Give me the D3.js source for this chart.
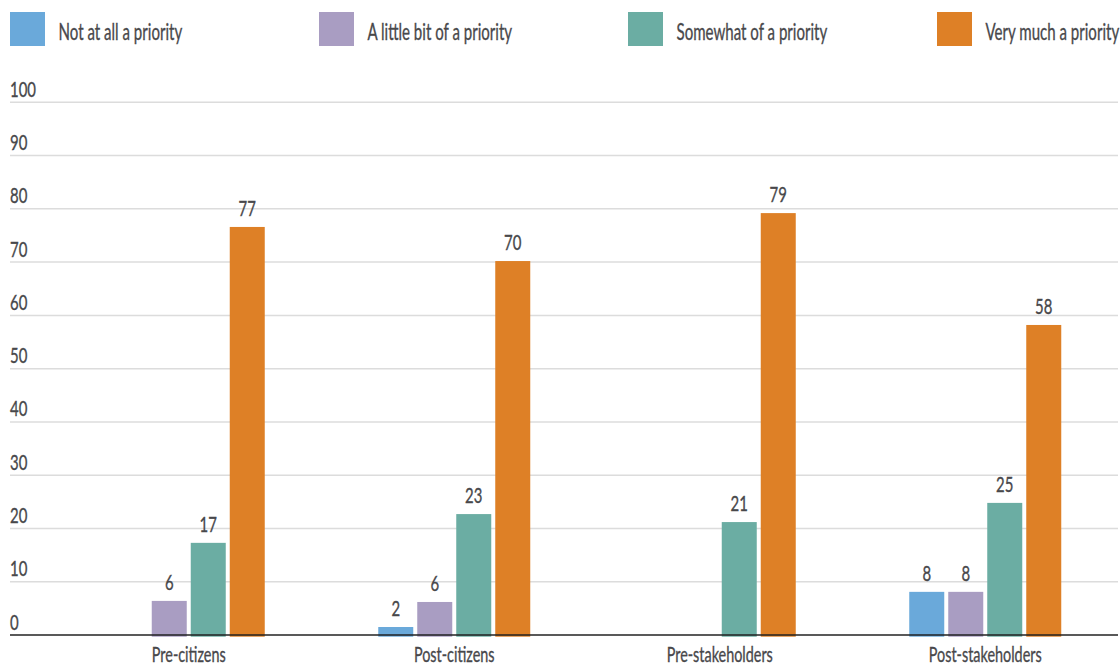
<!DOCTYPE html>
<html>
<head>
<meta charset="utf-8">
<script src="https://cdn.jsdelivr.net/npm/d3@7"></script>
<style>
  html, body { margin: 0; padding: 0; background: #fff; }
  svg { display: block; }
  text { font-family: Lato, "Open Sans", sans-serif; fill: #48484b; stroke: #48484b; stroke-width: 0.35px; }
</style>
</head>
<body>
<svg id="chart" width="1120" height="671"></svg>
<script>
// ---- data ----
const categories = ["Pre-citizens", "Post-citizens", "Pre-stakeholders", "Post-stakeholders"];
const seriesNames = ["Not at all a priority", "A little bit of a priority", "Somewhat of a priority", "Very much a priority"];
const notAtAll   = [null, 1.5, null, 8.1];
const littleBit  = [6.4, 6.2, null, 8.1];
const somewhat   = [17.3, 22.7, 21.2, 24.8];
const veryMuch   = [76.6, 70.2, 79.2, 58.2];
const seriesValues = [notAtAll, littleBit, somewhat, veryMuch];
const yTicks = [0, 10, 20, 30, 40, 50, 60, 70, 80, 90, 100];
const colors = ["#6aa9da", "#a99dc2", "#6bada3", "#de8026"];

// ---- layout ----
const svg = d3.select("#chart");
const SX_NUM = 0.68;  // horizontal condensing of numeric text
const SX_TXT = 0.655; // horizontal condensing of word text

const y = d3.scaleLinear().domain([0, 100]).range([635, 102.3]);
const x0 = d3.scaleBand().domain(categories).range([56, 1118]).paddingInner(0.4275).paddingOuter(0.21375);
const x1 = d3.scaleBand().domain(seriesNames).range([0, x0.bandwidth()]).paddingInner(0.1026).paddingOuter(0);

function ctext(sel, x, yy, str, size, anchor, sx) {
  return sel.append("text")
    .attr("transform", `translate(${x},${yy}) scale(${sx},1)`)
    .attr("text-anchor", anchor || "start")
    .style("font-size", size + "px")
    .text(str);
}

// gridlines
const grid = svg.append("g");
yTicks.filter(t => t > 0).forEach(t => {
  grid.append("line")
    .attr("x1", 10).attr("x2", 1118)
    .attr("y1", y(t)).attr("y2", y(t))
    .attr("stroke", "#dcdcdc").attr("stroke-width", 1.5);
});
// tick labels
yTicks.forEach(t => ctext(svg, 10, y(t) - 5.5, String(t), 22, "start", SX_NUM));

// bars
const data = [];
categories.forEach((c, ci) => {
  seriesNames.forEach((s, si) => {
    const v = seriesValues[si][ci];
    if (v != null) data.push({ c, s, si, v });
  });
});

svg.append("g").selectAll("rect").data(data).join("rect")
  .attr("x", d => x0(d.c) + x1(d.s))
  .attr("width", x1.bandwidth())
  .attr("y", d => y(d.v))
  .attr("height", d => y(0) + 1.7 - y(d.v))
  .attr("fill", d => colors[d.si]);

// baseline
svg.append("line")
  .attr("x1", 10).attr("x2", 1118)
  .attr("y1", y(0)).attr("y2", y(0))
  .attr("stroke", "#222").attr("stroke-width", 1.5);

// value labels
const lab = svg.append("g");
data.forEach(d => {
  ctext(lab, x0(d.c) + x1(d.s) + x1.bandwidth() / 2, y(d.v) - 11, String(Math.round(d.v)), 22, "middle", SX_NUM);
});

// category labels
categories.forEach(c => ctext(svg, x0(c) + x0.bandwidth() / 2, 662, c, 22, "middle", SX_TXT));

// legend
const legendX = d3.scalePoint().domain(seriesNames).range([10, 937]);
seriesNames.forEach((s, i) => {
  svg.append("rect")
    .attr("x", legendX(s)).attr("y", 12)
    .attr("width", 35).attr("height", 34)
    .attr("fill", colors[i]);
  ctext(svg, legendX(s) + 48.5, 40, s, 23, "start", SX_TXT);
});
</script>
</body>
</html>
